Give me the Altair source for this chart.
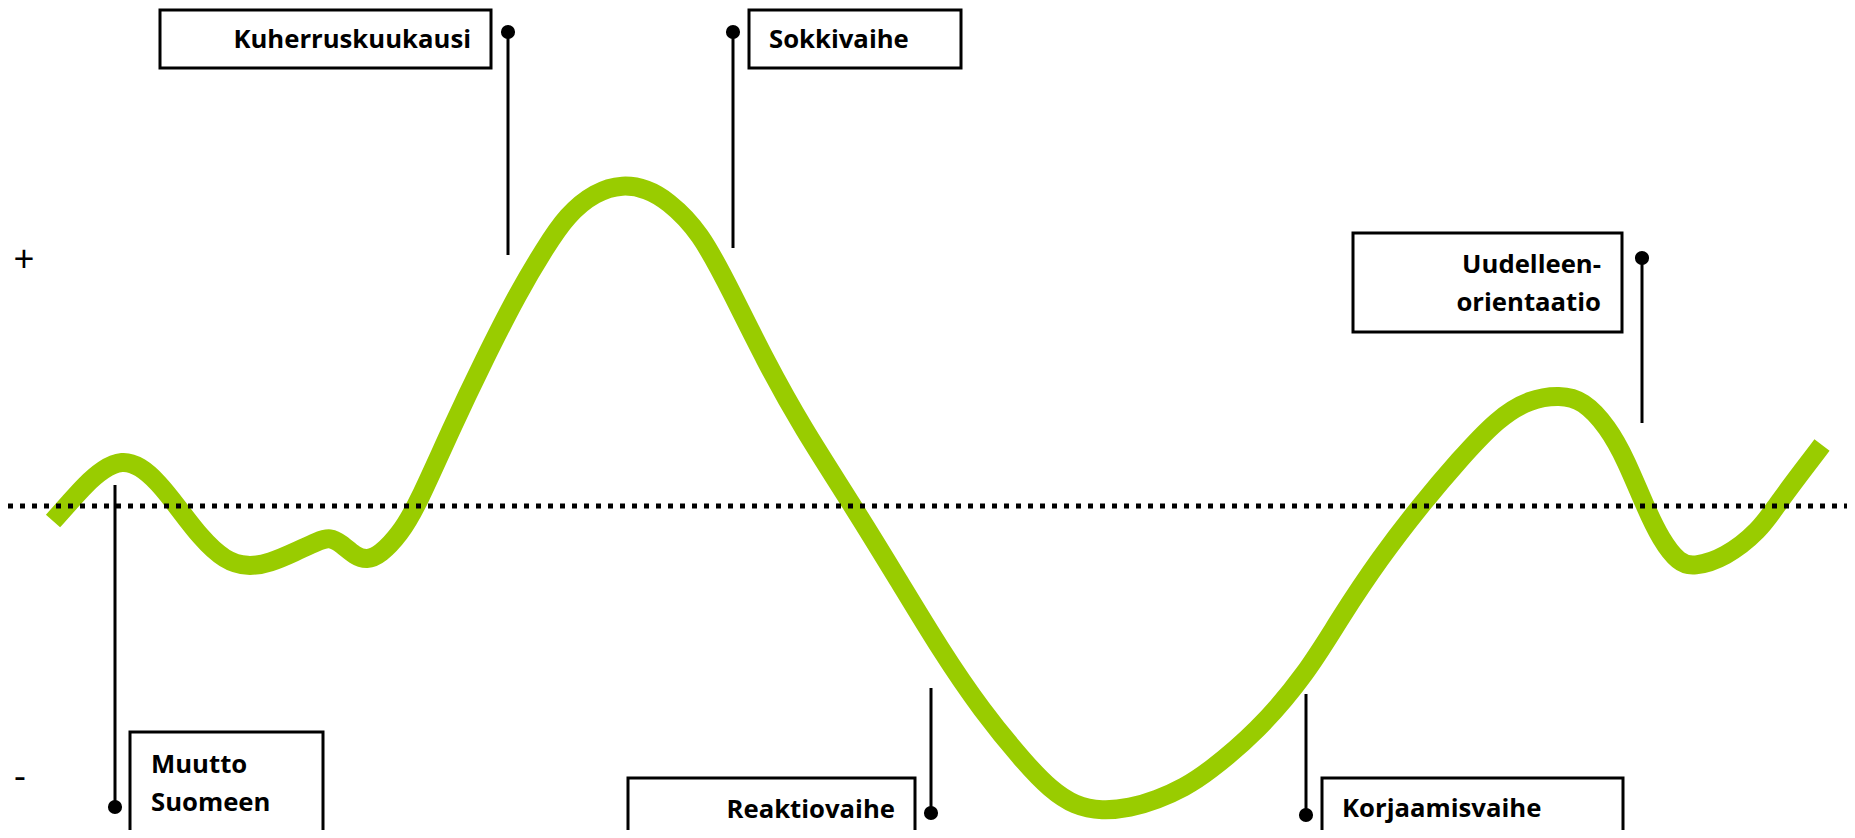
import altair as alt
import pandas as pd

# ---- curve data (time along x, mood: + above the dotted baseline, - below) ----
time = [53, 70, 85, 103, 122, 140, 158, 177, 200, 225, 248, 270, 295, 318, 330,
        342, 355, 367, 380, 400, 417, 452, 484, 518, 545, 567, 595, 623, 647,
        667, 700, 732, 765, 802, 853, 899, 940, 982, 1025, 1050, 1075, 1102,
        1130, 1157, 1185, 1207, 1257, 1307, 1340, 1380, 1420, 1459, 1498, 1530,
        1560, 1583, 1608, 1626, 1645, 1661, 1679, 1693, 1725, 1760, 1776, 1803,
        1822]
mood = [-15, 4, 21, 37, 46, 40, 24, 0, -31, -55, -61, -57, -46, -35, -31,
        -38, -50, -54, -49, -28, 0, 79, 146, 213, 258, 291, 314, 322, 317,
        306, 275, 213, 146, 79, 0, -75, -143, -205, -257, -283, -300, -305,
        -302, -294, -281, -267, -226, -167, -112, -52, 0, 46, 88, 107,
        111, 106, 79, 46, 0, -34, -57, -61, -52, -24, 0, 36,
        61]

# ---- phase annotations ----
phase_names = ["Kuherruskuukausi", "Sokkivaihe", "Uudelleen-\norientaatio",
               "Muutto\nSuomeen", "Reaktiovaihe", "Korjaamisvaihe"]
pin_time = [508, 733, 1642, 115, 931, 1306]
pin_head = [474, 474, 248, -301, -307, -309]
pin_tail = [251, 258, 83, 21, -182, -188]
box_x1 = [160, 749, 1353, 130, 628, 1322]
box_x2 = [491, 961, 1622, 323, 915, 1623]
box_y1 = [496, 496, 273, -226, -272, -272]
box_y2 = [438, 438, 174, -332, -332, -332]
text_x = [471, 769, 1601, 151, 895, 1342]
text_align = ["right", "left", "right", "left", "right", "left"]
text_base = [458, 458, 233, -267, -312, -311]
line_gap = 38

sign_labels = ["+", "-"]
sign_time = [24, 20]
sign_mood = [246, -273]

X = alt.Scale(domain=[8, 1847], nice=False, zero=False)
Y = alt.Scale(domain=[-324, 498], nice=False, zero=False)

curve_df = pd.DataFrame({"time": time, "mood": mood})
base_df = pd.DataFrame({"x1": [8], "x2": [1847], "y": [0]})
box_df = pd.DataFrame({"x1": box_x1, "x2": box_x2, "y1": box_y1, "y2": box_y2})
pin_df = pd.DataFrame({"x": pin_time, "y1": pin_head, "y2": pin_tail})
dot_df = pd.DataFrame({"x": pin_time, "y": pin_head})

rows = []
for name, tx, al, tb in zip(phase_names, text_x, text_align, text_base):
    for i, part in enumerate(name.split("\n")):
        rows.append({"t": part, "x": tx, "y": tb - i * line_gap, "align": al})
text_df = pd.DataFrame(rows)
sign_df = pd.DataFrame({"t": sign_labels, "x": sign_time, "y": sign_mood})

curve = alt.Chart(curve_df).mark_line(
    color="#99CC00", strokeWidth=19, interpolate="basis", strokeCap="butt"
).encode(
    x=alt.X("time:Q", scale=X, axis=None),
    y=alt.Y("mood:Q", scale=Y, axis=None),
)

baseline = alt.Chart(base_df).mark_rule(
    color="black", strokeWidth=5, strokeDash=[5, 7]
).encode(
    x=alt.X("x1:Q", scale=X, axis=None), x2="x2:Q",
    y=alt.Y("y:Q", scale=Y, axis=None),
)

boxes = alt.Chart(box_df).mark_rect(
    fill="white", stroke="black", strokeWidth=3, clip=True
).encode(
    x=alt.X("x1:Q", scale=X, axis=None), x2="x2:Q",
    y=alt.Y("y1:Q", scale=Y, axis=None), y2="y2:Q",
)

pins = alt.Chart(pin_df).mark_rule(color="black", strokeWidth=3).encode(
    x=alt.X("x:Q", scale=X, axis=None),
    y=alt.Y("y1:Q", scale=Y, axis=None), y2="y2:Q",
)

dots = alt.Chart(dot_df).mark_circle(color="black", size=200, opacity=1).encode(
    x=alt.X("x:Q", scale=X, axis=None),
    y=alt.Y("y:Q", scale=Y, axis=None),
)

def text_layer(al):
    return alt.Chart(text_df[text_df["align"] == al]).mark_text(
        align=al, baseline="alphabetic", font="Open Sans", fontWeight="bold",
        fontSize=25.7, color="black"
    ).encode(
        x=alt.X("x:Q", scale=X, axis=None),
        y=alt.Y("y:Q", scale=Y, axis=None),
        text="t:N",
    )

signs = alt.Chart(sign_df).mark_text(
    align="center", baseline="middle", font="Lato", fontSize=36, color="black"
).encode(
    x=alt.X("x:Q", scale=X, axis=None),
    y=alt.Y("y:Q", scale=Y, axis=None),
    text="t:N",
)

chart = alt.layer(
    curve, baseline, boxes, pins, dots, text_layer("left"), text_layer("right"), signs
).properties(
    width=1839, height=822, padding=0,
    autosize=alt.AutoSizeParams(type="none"),
).configure_view(stroke=None)

chart.save("out.html", embed_options={"renderer": "svg", "actions": False})
